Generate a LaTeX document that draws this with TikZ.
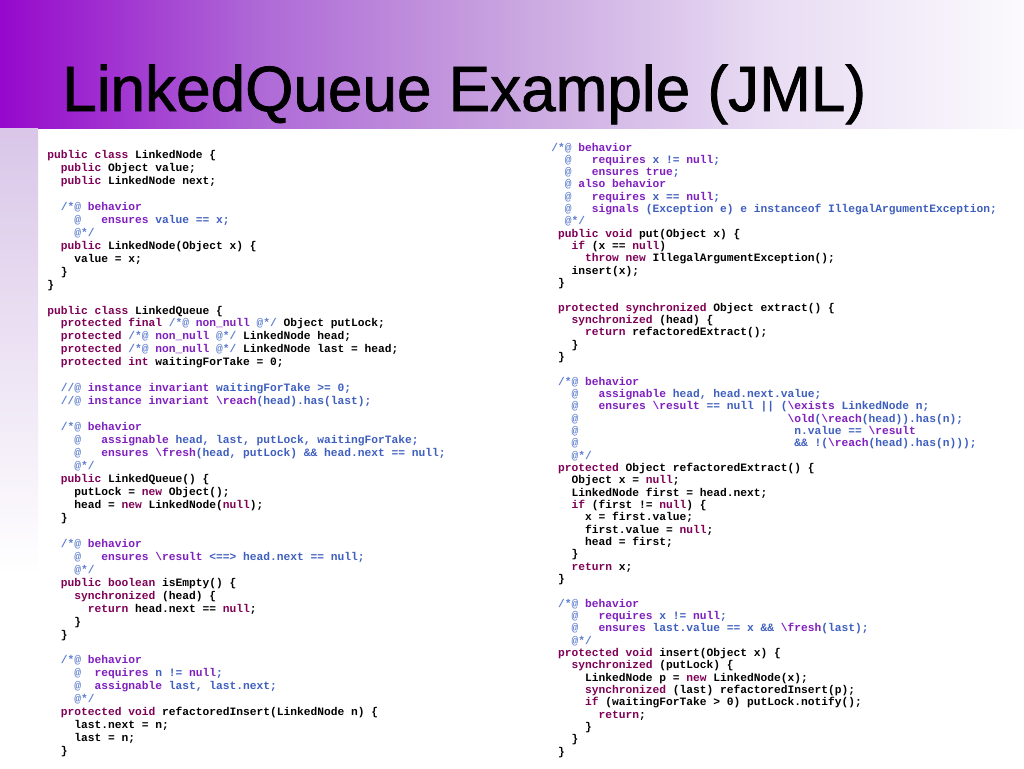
\documentclass[tikz,border=0pt]{standalone}
\usepackage{fontspec}
\newfontfamily\codefont{Liberation Mono}
\newfontfamily\titlefont{Liberation Sans}[FakeBold=1.2]
\definecolor{jkw}{HTML}{7F0055}
\definecolor{jmlkw}{HTML}{7F1FBF}
\definecolor{jmlbl}{HTML}{3F5FBF}
\definecolor{jmlat}{HTML}{5F7FCF}
\definecolor{bar0}{HTML}{9608CC}
\definecolor{bar1}{HTML}{AE68D6}
\definecolor{bar2}{HTML}{C9A5E0}
\definecolor{bar3}{HTML}{E8DCF3}
\definecolor{bar4}{HTML}{FBFAFD}
\definecolor{strip0}{HTML}{D9C6E8}
\pgfdeclarehorizontalshading{barshade}{100bp}{color(0bp)=(bar0); color(25bp)=(bar0); color(37.5bp)=(bar1); color(50bp)=(bar2); color(62.5bp)=(bar3); color(75bp)=(bar4); color(100bp)=(bar4)}
\pgfdeclareverticalshading{stripshade}{100bp}{color(0bp)=(white); color(25bp)=(white); color(40bp)=(white); color(75bp)=(strip0); color(100bp)=(strip0)}
\newlength\cw \setlength\cw{5.064pt}
\newcommand\Kw[1]{\textcolor{jkw}{#1}}
\newcommand\Jk[1]{\textcolor{jmlkw}{#1}}
\newcommand\Jb[1]{\textcolor{jmlbl}{#1}}
\newcommand\Ja[1]{\textcolor{jmlat}{#1}}
\newcommand\gap[1]{\hspace*{#1\cw}}
\newcommand\bsl{\textbackslash}
\newcommand\Lc[3]{\node[codeline] (L#1) at ({47+#2*6.752},{158.5+(#1-1)*12.96}) {#3};}
\newcommand\Rc[3]{\node[codeline] (R#1) at ({551+#2*6.752},{151+(#1-1)*12.33}) {#3};}
\tikzset{
  codeline/.style={anchor=base west, inner sep=0pt, font=\codefont\bfseries\fontsize{8.44pt}{9.7pt}\selectfont\frenchspacing},
  titletext/.style={anchor=base west, inner sep=0pt, xscale=0.97, transform shape, font=\titlefont\fontsize{48pt}{56pt}\selectfont}
}
\begin{document}
\begin{tikzpicture}[x=0.75pt, y=-0.75pt]
\useasboundingbox (0,0) rectangle (1024,768);
\fill[white] (0,0) rectangle (1024,768);
\shade[shading=barshade] (0,0) rectangle (1024,128);
\shade[shading=stripshade] (0,128) rectangle (38,768);
\node[titletext] (title) at (62,111) {LinkedQueue Example (JML)};
% left column
\Lc{1}{0}{\Kw{public} \Kw{class} LinkedNode \{}
\Lc{2}{2}{\Kw{public} Object value;}
\Lc{3}{2}{\Kw{public} LinkedNode next;}
\Lc{5}{2}{\Ja{/*@} \Jk{behavior}}
\Lc{6}{4}{\Ja{@}\gap{3}\Jk{ensures} \Jb{value == x;}}
\Lc{7}{4}{\Ja{@*/}}
\Lc{8}{2}{\Kw{public} LinkedNode(Object x) \{}
\Lc{9}{4}{value = x;}
\Lc{10}{2}{\}}
\Lc{11}{0}{\}}
\Lc{13}{0}{\Kw{public} \Kw{class} LinkedQueue \{}
\Lc{14}{2}{\Kw{protected} \Kw{final} \Ja{/*@} \Jk{non\_null} \Ja{@*/} Object putLock;}
\Lc{15}{2}{\Kw{protected} \Ja{/*@} \Jk{non\_null} \Ja{@*/} LinkedNode head;}
\Lc{16}{2}{\Kw{protected} \Ja{/*@} \Jk{non\_null} \Ja{@*/} LinkedNode last = head;}
\Lc{17}{2}{\Kw{protected} \Kw{int} waitingForTake = 0;}
\Lc{19}{2}{\Ja{//@} \Jk{instance} \Jk{invariant} \Jb{waitingForTake >= 0;}}
\Lc{20}{2}{\Ja{//@} \Jk{instance} \Jk{invariant} \Jk{\bsl{}reach}\Jb{(head).has(last);}}
\Lc{22}{2}{\Ja{/*@} \Jk{behavior}}
\Lc{23}{4}{\Ja{@}\gap{3}\Jk{assignable} \Jb{head, last, putLock, waitingForTake;}}
\Lc{24}{4}{\Ja{@}\gap{3}\Jk{ensures} \Jk{\bsl{}fresh}\Jb{(head, putLock) \&\& head.next == null;}}
\Lc{25}{4}{\Ja{@*/}}
\Lc{26}{2}{\Kw{public} LinkedQueue() \{}
\Lc{27}{4}{putLock = \Kw{new} Object();}
\Lc{28}{4}{head = \Kw{new} LinkedNode(\Kw{null});}
\Lc{29}{2}{\}}
\Lc{31}{2}{\Ja{/*@} \Jk{behavior}}
\Lc{32}{4}{\Ja{@}\gap{3}\Jk{ensures} \Jk{\bsl{}result} \Jb{<==> head.next == null;}}
\Lc{33}{4}{\Ja{@*/}}
\Lc{34}{2}{\Kw{public} \Kw{boolean} isEmpty() \{}
\Lc{35}{4}{\Kw{synchronized} (head) \{}
\Lc{36}{6}{\Kw{return} head.next == \Kw{null};}
\Lc{37}{4}{\}}
\Lc{38}{2}{\}}
\Lc{40}{2}{\Ja{/*@} \Jk{behavior}}
\Lc{41}{4}{\Ja{@}\gap{2}\Jk{requires} \Jb{n != }\Jk{null}\Jb{;}}
\Lc{42}{4}{\Ja{@}\gap{2}\Jk{assignable} \Jb{last, last.next;}}
\Lc{43}{4}{\Ja{@*/}}
\Lc{44}{2}{\Kw{protected} \Kw{void} refactoredInsert(LinkedNode n) \{}
\Lc{45}{4}{last.next = n;}
\Lc{46}{4}{last = n;}
\Lc{47}{2}{\}}
% right column
\Rc{1}{0}{\Ja{/*@} \Jk{behavior}}
\Rc{2}{2}{\Ja{@}\gap{3}\Jk{requires} \Jb{x != }\Jk{null}\Jb{;}}
\Rc{3}{2}{\Ja{@}\gap{3}\Jk{ensures} \Jk{true}\Jb{;}}
\Rc{4}{2}{\Ja{@} \Jk{also} \Jk{behavior}}
\Rc{5}{2}{\Ja{@}\gap{3}\Jk{requires} \Jb{x == }\Jk{null}\Jb{;}}
\Rc{6}{2}{\Ja{@}\gap{3}\Jk{signals} \Jb{(Exception e) e instanceof IllegalArgumentException;}}
\Rc{7}{2}{\Ja{@*/}}
\Rc{8}{1}{\Kw{public} \Kw{void} put(Object x) \{}
\Rc{9}{3}{\Kw{if} (x == \Kw{null})}
\Rc{10}{5}{\Kw{throw} \Kw{new} IllegalArgumentException();}
\Rc{11}{3}{insert(x);}
\Rc{12}{1}{\}}
\Rc{14}{1}{\Kw{protected} \Kw{synchronized} Object extract() \{}
\Rc{15}{3}{\Kw{synchronized} (head) \{}
\Rc{16}{5}{\Kw{return} refactoredExtract();}
\Rc{17}{3}{\}}
\Rc{18}{1}{\}}
\Rc{20}{1}{\Ja{/*@} \Jk{behavior}}
\Rc{21}{3}{\Ja{@}\gap{3}\Jk{assignable} \Jb{head, head.next.value;}}
\Rc{22}{3}{\Ja{@}\gap{3}\Jk{ensures} \Jk{\bsl{}result} \Jb{== null || (}\Jk{\bsl{}exists} \Jb{LinkedNode n;}}
\Rc{23}{3}{\Ja{@}\gap{31}\Jk{\bsl{}old}\Jb{(}\Jk{\bsl{}reach}\Jb{(head)).has(n);}}
\Rc{24}{3}{\Ja{@}\gap{32}\Jb{n.value == }\Jk{\bsl{}result}}
\Rc{25}{3}{\Ja{@}\gap{32}\Jb{\&\& !(}\Jk{\bsl{}reach}\Jb{(head).has(n)));}}
\Rc{26}{3}{\Ja{@*/}}
\Rc{27}{1}{\Kw{protected} Object refactoredExtract() \{}
\Rc{28}{3}{Object x = \Kw{null};}
\Rc{29}{3}{LinkedNode first = head.next;}
\Rc{30}{3}{\Kw{if} (first != \Kw{null}) \{}
\Rc{31}{5}{x = first.value;}
\Rc{32}{5}{first.value = \Kw{null};}
\Rc{33}{5}{head = first;}
\Rc{34}{3}{\}}
\Rc{35}{3}{\Kw{return} x;}
\Rc{36}{1}{\}}
\Rc{38}{1}{\Ja{/*@} \Jk{behavior}}
\Rc{39}{3}{\Ja{@}\gap{3}\Jk{requires} \Jb{x != }\Jk{null}\Jb{;}}
\Rc{40}{3}{\Ja{@}\gap{3}\Jk{ensures} \Jb{last.value == x \&\& }\Jk{\bsl{}fresh}\Jb{(last);}}
\Rc{41}{3}{\Ja{@*/}}
\Rc{42}{1}{\Kw{protected} \Kw{void} insert(Object x) \{}
\Rc{43}{3}{\Kw{synchronized} (putLock) \{}
\Rc{44}{5}{LinkedNode p = \Kw{new} LinkedNode(x);}
\Rc{45}{5}{\Kw{synchronized} (last) refactoredInsert(p);}
\Rc{46}{5}{\Kw{if} (waitingForTake > 0) putLock.notify();}
\Rc{47}{7}{\Kw{return};}
\Rc{48}{5}{\}}
\Rc{49}{3}{\}}
\Rc{50}{1}{\}}
\end{tikzpicture}
\end{document}
